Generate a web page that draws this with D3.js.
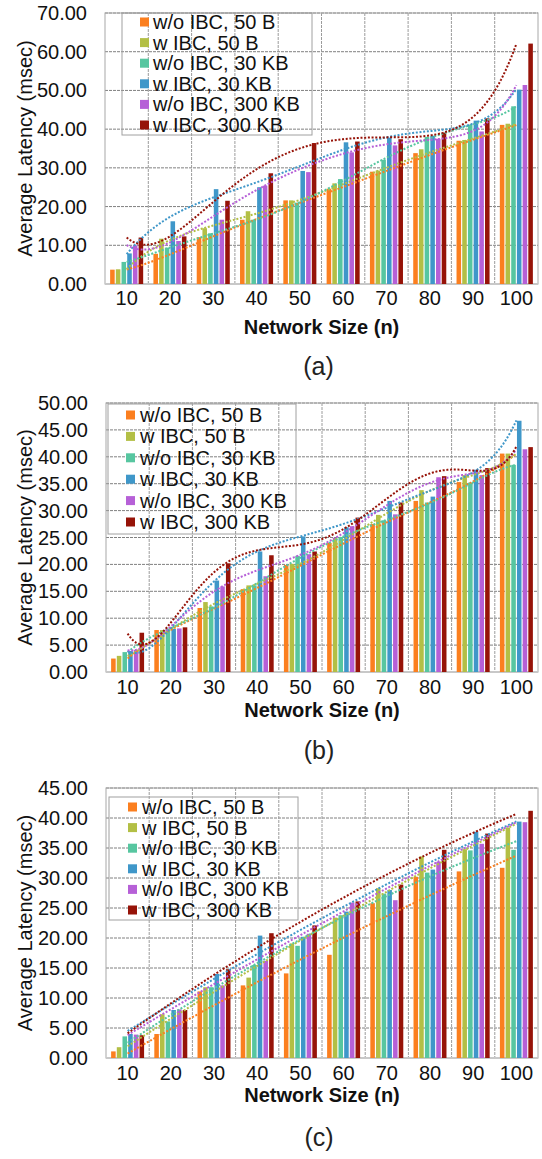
<!DOCTYPE html>
<html>
<head>
<meta charset="utf-8">
<script src="https://cdn.jsdelivr.net/npm/d3@7"></script>
<style>
  body { margin: 0; background: #fff; }
  svg { display: block; font-family: "Liberation Sans", Arial, sans-serif; }
</style>
</head>
<body>
<script>
// categories / series
const categories = ["10", "20", "30", "40", "50", "60", "70", "80", "90", "100"];
const seriesNames = ["w/o IBC, 50 B", "w IBC, 50 B", "w/o IBC, 30 KB", "w IBC, 30 KB", "w/o IBC, 300 KB", "w IBC, 300 KB"];
const seriesColors = ["#fb7f1f", "#b3bf45", "#57c6a0", "#3f97c9", "#b660d7", "#961308"];

// panel (a)
const aNoIbc50B = [3.7, 7.8, 12.1, 16.6, 21.6, 24.6, 29.0, 33.8, 37.0, 41.1];
const aIbc50B = [3.8, 11.7, 14.4, 18.8, 21.6, 26.0, 29.3, 34.8, 37.2, 41.4];
const aNoIbc30KB = [5.7, 9.4, 13.1, 16.6, 21.0, 27.1, 32.1, 38.0, 41.1, 45.9];
const aIbc30KB = [7.9, 16.2, 24.5, 25.0, 29.2, 36.6, 37.8, 38.3, 42.2, 50.2];
const aNoIbc300KB = [10.0, 11.1, 16.6, 25.4, 28.9, 34.0, 35.8, 37.5, 39.4, 51.4];
const aIbc300KB = [12.0, 12.3, 21.5, 28.6, 36.4, 36.8, 37.4, 39.1, 42.8, 62.1];

// panel (b)
const bNoIbc50B = [2.5, 7.8, 11.9, 15.4, 19.9, 24.0, 27.5, 31.8, 35.3, 40.6];
const bIbc50B = [3.0, 7.8, 13.0, 16.1, 20.1, 24.9, 29.2, 33.8, 36.6, 40.6];
const bNoIbc30KB = [3.7, 8.1, 12.2, 16.1, 21.6, 25.1, 28.2, 31.5, 35.2, 38.5];
const bIbc30KB = [3.9, 8.0, 17.0, 22.4, 25.2, 26.9, 31.8, 32.6, 37.6, 46.7];
const bNoIbc300KB = [4.1, 8.1, 15.9, 17.8, 21.9, 27.1, 29.3, 36.2, 36.6, 41.4];
const bIbc300KB = [7.3, 8.3, 20.2, 21.7, 22.4, 28.7, 31.5, 36.4, 37.9, 41.8];

// panel (c)
const cNoIbc50B = [1.1, 4.0, 11.1, 12.1, 14.1, 17.2, 25.8, 30.2, 31.1, 31.7];
const cIbc50B = [1.8, 7.3, 11.8, 13.4, 19.1, 23.4, 28.3, 33.6, 34.8, 38.4];
const cNoIbc30KB = [3.6, 6.1, 11.8, 15.5, 18.7, 23.8, 27.4, 30.9, 34.6, 34.7];
const cIbc30KB = [4.0, 8.0, 14.0, 20.4, 20.2, 24.4, 28.0, 31.4, 37.7, 39.4];
const cNoIbc300KB = [3.9, 8.1, 12.1, 16.2, 20.7, 25.9, 26.3, 32.7, 35.7, 39.3];
const cIbc300KB = [3.8, 8.0, 14.8, 20.8, 22.1, 26.1, 28.9, 34.7, 37.4, 41.2];

const panels = [
  { caption: "(a)", series: [aNoIbc50B, aIbc50B, aNoIbc30KB, aIbc30KB, aNoIbc300KB, aIbc300KB],
    yMax: 70, yStep: 10, degree: 6,
    left: 105, right: 538, top: 13, bottom: 284, tickX: 87, tickY: 298, titleY: 327, captionY: 366,
    legend: { x: 122, y: 13, w: 190, h: 122, sx: 140, tx: 153, row0: 22, rowStep: 20.6 } },
  { caption: "(b)", series: [bNoIbc50B, bIbc50B, bNoIbc30KB, bIbc30KB, bNoIbc300KB, bIbc300KB],
    yMax: 50, yStep: 5, degree: 6,
    left: 106, right: 538, top: 403, bottom: 672, tickX: 88, tickY: 687, titleY: 710, captionY: 750,
    legend: { x: 108, y: 404, w: 188, h: 130, sx: 126, tx: 140, row0: 415, rowStep: 21.4 } },
  { caption: "(c)", series: [cNoIbc50B, cIbc50B, cNoIbc30KB, cIbc30KB, cNoIbc300KB, cIbc300KB],
    yMax: 45, yStep: 5, degree: 2,
    left: 106, right: 538, top: 788, bottom: 1058, tickX: 88, tickY: 1073, titleY: 1095, captionY: 1137,
    legend: { x: 109, y: 797, w: 189, h: 123, sx: 128, tx: 142, row0: 807, rowStep: 20.6 } }
];

// least squares polynomial fit (like the spreadsheet trendline), x = 1..n
function polyfit(ys, degree) {
  const n = ys.length;
  const mid = (n + 1) / 2, half = (n - 1) / 2;
  const m = degree + 1;
  const A = d3.range(m).map(() => new Array(m + 1).fill(0));
  ys.forEach((yv, i) => {
    const t = (i + 1 - mid) / half;
    for (let r = 0; r < m; r++) {
      for (let c = 0; c < m; c++) A[r][c] += Math.pow(t, r + c);
      A[r][m] += yv * Math.pow(t, r);
    }
  });
  for (let col = 0; col < m; col++) {
    let piv = col;
    for (let r = col + 1; r < m; r++) if (Math.abs(A[r][col]) > Math.abs(A[piv][col])) piv = r;
    [A[col], A[piv]] = [A[piv], A[col]];
    for (let r = 0; r < m; r++) {
      if (r === col) continue;
      const f = A[r][col] / A[col][col];
      for (let c = col; c <= m; c++) A[r][c] -= f * A[col][c];
    }
  }
  const coef = A.map((row, i) => row[m] / row[i]);
  return (x) => {
    const t = (x - mid) / half;
    return coef.reduce((s, c, i) => s + c * Math.pow(t, i), 0);
  };
}

const svg = d3.select("body").append("svg")
  .attr("width", 542)
  .attr("height", 1159);

panels.forEach((p, pi) => {
  const g = svg.append("g");

  const x0 = d3.scaleBand().domain(categories).range([p.left, p.right]).padding(0);
  const x1 = d3.scaleBand().domain(d3.range(seriesNames.length))
    .range([0, x0.bandwidth()]).paddingInner(0.2).paddingOuter(0.9);
  const y = d3.scaleLinear().domain([0, p.yMax]).range([p.bottom, p.top]);
  const yTicks = d3.range(0, p.yMax + 0.001, p.yStep);

  // grid
  g.append("g").selectAll("line").data(yTicks.slice(1)).join("line")
    .attr("x1", p.left).attr("x2", p.right)
    .attr("y1", d => y(d)).attr("y2", d => y(d))
    .attr("stroke", "#808080").attr("stroke-width", 1).attr("stroke-dasharray", "3,1");
  g.append("g").selectAll("line").data(categories.slice(1)).join("line")
    .attr("x1", d => x0(d)).attr("x2", d => x0(d))
    .attr("y1", p.top).attr("y2", p.bottom)
    .attr("stroke", "#9c9c9c").attr("stroke-width", 1).attr("stroke-dasharray", "3,1");
  g.append("rect")
    .attr("x", p.left).attr("y", p.top)
    .attr("width", p.right - p.left).attr("height", p.bottom - p.top)
    .attr("fill", "none").attr("stroke", "#a8a8a8");
  g.append("line")
    .attr("x1", p.left).attr("x2", p.right)
    .attr("y1", p.bottom).attr("y2", p.bottom)
    .attr("stroke", "#c8c8c8").attr("stroke-width", 2);

  // bars
  p.series.forEach((vals, si) => {
    g.append("g").selectAll("rect").data(vals).join("rect")
      .attr("x", (d, i) => x0(categories[i]) + x1(si))
      .attr("y", d => y(d))
      .attr("width", x1.bandwidth())
      .attr("height", d => y(0) - y(d))
      .attr("fill", seriesColors[si]);
  });

  // trendlines
  const clipId = "clip" + pi;
  svg.append("clipPath").attr("id", clipId).append("rect")
    .attr("x", p.left).attr("y", p.top)
    .attr("width", p.right - p.left).attr("height", p.bottom - p.top);
  const xt = d3.scaleLinear().domain([1, categories.length])
    .range([x0(categories[0]) + x0.bandwidth() / 2, x0(categories[categories.length - 1]) + x0.bandwidth() / 2]);
  const samples = d3.range(1, categories.length + 0.001, 0.05);
  const line = d3.line().x(d => xt(d[0])).y(d => y(d[1]));
  p.series.forEach((vals, si) => {
    const f = polyfit(vals, p.degree);
    g.append("path")
      .attr("clip-path", `url(#${clipId})`)
      .attr("d", line(samples.map(s => [s, f(s)])))
      .attr("fill", "none")
      .attr("stroke", seriesColors[si])
      .attr("stroke-width", 2)
      .attr("stroke-dasharray", "2,1.7");
  });

  // y axis labels
  g.append("g").selectAll("text").data(yTicks).join("text")
    .attr("x", p.tickX).attr("y", d => y(d))
    .attr("text-anchor", "end").attr("dominant-baseline", "central")
    .attr("font-size", 20).attr("fill", "#111")
    .text(d => d.toFixed(2));
  g.append("text")
    .attr("transform", `translate(25,${(p.top + p.bottom) / 2}) rotate(-90)`)
    .attr("text-anchor", "middle").attr("dominant-baseline", "central")
    .attr("font-size", 20).attr("fill", "#111")
    .text("Average Latency (msec)");

  // x axis labels
  g.append("g").selectAll("text").data(categories).join("text")
    .attr("x", d => x0(d) + x0.bandwidth() / 2).attr("y", p.tickY)
    .attr("text-anchor", "middle").attr("dominant-baseline", "central")
    .attr("font-size", 20).attr("fill", "#111")
    .text(d => d);
  g.append("text")
    .attr("x", (p.left + p.right) / 2).attr("y", p.titleY)
    .attr("text-anchor", "middle").attr("dominant-baseline", "central")
    .attr("font-size", 20).attr("font-weight", "bold").attr("fill", "#111")
    .text("Network Size (n)");
  g.append("text")
    .attr("x", (p.left + p.right) / 2 - 3).attr("y", p.captionY)
    .attr("text-anchor", "middle").attr("dominant-baseline", "central")
    .attr("font-size", 25).attr("fill", "#222")
    .text(p.caption);

  // legend
  const L = p.legend;
  g.append("rect")
    .attr("x", L.x).attr("y", L.y).attr("width", L.w).attr("height", L.h)
    .attr("fill", "none").attr("stroke", "#a0a0a0");
  const items = g.append("g").selectAll("g").data(seriesNames).join("g")
    .attr("transform", (d, i) => `translate(0,${L.row0 + i * L.rowStep})`);
  items.append("rect")
    .attr("x", L.sx).attr("y", -4.5).attr("width", 9).attr("height", 9)
    .attr("fill", (d, i) => seriesColors[i]);
  items.append("text")
    .attr("x", L.tx).attr("y", 0).attr("dominant-baseline", "central")
    .attr("font-size", 20).attr("fill", "#111")
    .text(d => d);
});
</script>
</body>
</html>
